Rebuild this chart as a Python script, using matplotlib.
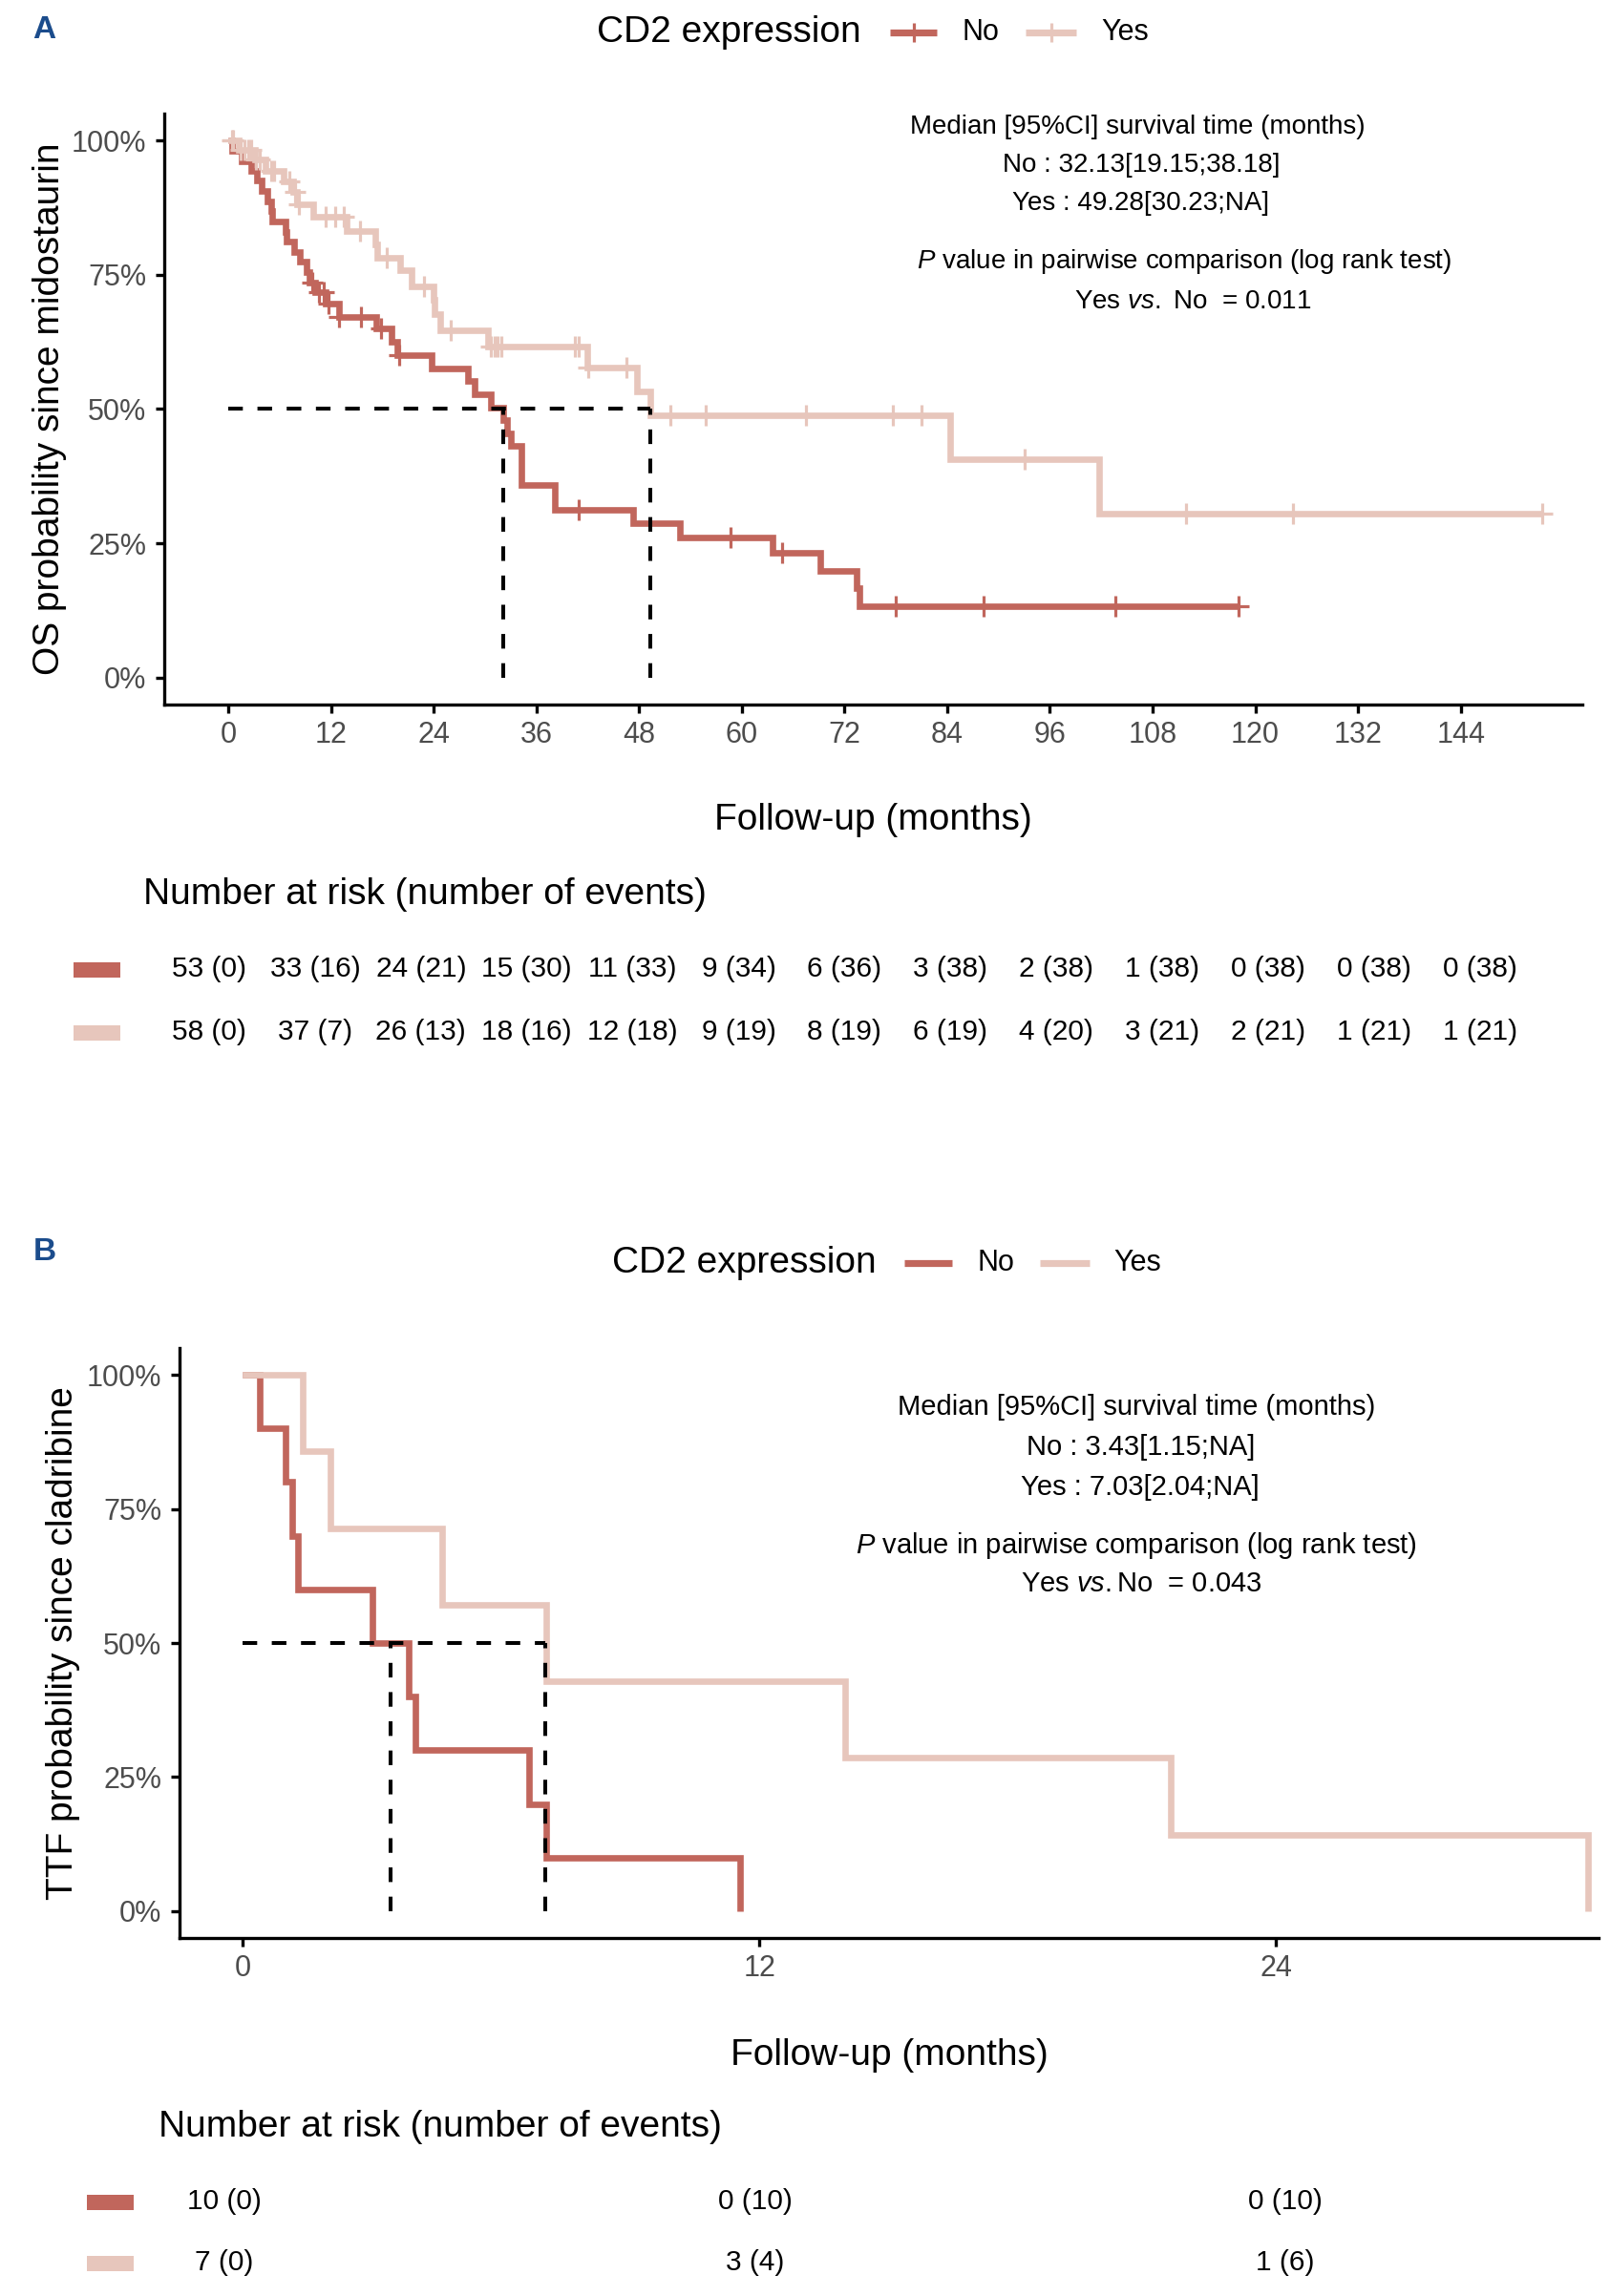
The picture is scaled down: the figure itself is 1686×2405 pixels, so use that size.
import numpy as np
import matplotlib
matplotlib.use("Agg")
import matplotlib.pyplot as plt
from matplotlib.lines import Line2D
from matplotlib.patches import Rectangle

plt.rcParams['font.family'] = ['Liberation Sans', 'DejaVu Sans']
plt.rcParams['mathtext.fontset'] = 'custom'
plt.rcParams['mathtext.rm'] = 'Liberation Sans'
plt.rcParams['mathtext.it'] = 'Liberation Sans:italic'

W, H = 1686, 2405
RED = '#C1665C'
PINK = '#E7C6BC'
GREY = '#4D4D4D'
NAVY = '#1B4C8C'

# ---- panel A : OS since midostaurin ----
no_a_times = [0.5, 1.6, 2.7, 3.3, 3.9, 4.6, 5.0, 5.1, 6.7, 6.8, 7.7, 8.4, 9.1, 9.5,
              10.2, 11.4, 12.9, 17.3, 19.1, 19.7, 23.8, 28.0, 28.8, 30.7, 32.13,
              32.6, 33.0, 34.3, 38.2, 47.3, 52.8, 63.6, 69.2, 73.4, 73.8]
no_a_surv = [0.981, 0.962, 0.943, 0.925, 0.906, 0.887, 0.868, 0.849, 0.830, 0.811,
             0.792, 0.774, 0.755, 0.736, 0.717, 0.697, 0.672, 0.651, 0.625, 0.600,
             0.576, 0.552, 0.528, 0.503, 0.479, 0.455, 0.431, 0.359, 0.313, 0.287,
             0.261, 0.232, 0.199, 0.166, 0.133]
no_a_censor = [9.8, 10.6, 11.2, 11.7, 13.0, 15.5, 17.9, 20.0, 41.0, 58.7, 64.7,
               78.0, 88.3, 103.7, 118.0]
no_a_end = 118.0

yes_a_times = [1.2, 3.1, 4.4, 6.5, 7.6, 8.0, 9.9, 13.8, 17.2, 17.4, 20.1, 21.4,
               23.95, 24.1, 24.8, 30.4, 42.0, 47.8, 49.28, 84.4, 101.7]
yes_a_surv = [0.982, 0.964, 0.944, 0.924, 0.904, 0.881, 0.858, 0.832, 0.807, 0.781,
              0.758, 0.729, 0.703, 0.676, 0.647, 0.617, 0.578, 0.533, 0.488, 0.407,
              0.305]
yes_a_censor = [0.4, 0.6, 1.5, 1.9, 2.3, 2.7, 3.2, 3.7, 5.0, 5.4, 7.1, 7.8, 8.3, 11.4,
                12.5, 13.5, 15.4, 18.5, 22.9, 26.0, 30.7, 31.1, 31.5, 31.9, 40.5,
                40.9, 42.1, 46.5, 51.7, 55.8, 67.5, 77.6, 81.0, 93.1, 111.9, 124.4,
                153.5]
yes_a_end = 153.5

median_a = [32.13, 49.28]
risk_ticks_a = list(range(0, 145, 12))
no_a_risk = [53, 33, 24, 15, 11, 9, 6, 3, 2, 1, 0, 0, 0]
no_a_events = [0, 16, 21, 30, 33, 34, 36, 38, 38, 38, 38, 38, 38]
yes_a_risk = [58, 37, 26, 18, 12, 9, 8, 6, 4, 3, 2, 1, 1]
yes_a_events = [0, 7, 13, 16, 18, 19, 19, 19, 20, 21, 21, 21, 21]

# ---- panel B : TTF since cladribine ----
no_b_times = [0.4, 1.0, 1.15, 1.28, 3.02, 3.85, 4.0, 6.66, 7.05, 11.55]
no_b_surv = [0.9, 0.8, 0.7, 0.6, 0.5, 0.4, 0.3, 0.2, 0.1, 0.0]
yes_b_times = [1.39, 2.04, 4.64, 7.05, 14.0, 21.55, 31.25]
yes_b_surv = [0.857, 0.714, 0.571, 0.429, 0.286, 0.143, 0.0]
median_b = [3.43, 7.03]
risk_ticks_b = [0, 12, 24]
no_b_risk = [10, 0, 0]
no_b_events = [0, 10, 10]
yes_b_risk = [7, 3, 1]
yes_b_events = [0, 4, 6]


def fx(x):
    return x / W


def fy(y):
    return 1 - y / H


def box(l, t, r, b):
    return [l / W, 1 - b / H, (r - l) / W, (b - t) / H]


def draw_km(ax, times, surv, end, color, censors=None):
    x = np.r_[0, times, end]
    y = np.r_[1, surv, surv[-1]]
    ax.step(x, y, where='post', color=color, lw=4.8, solid_joinstyle='miter',
            solid_capstyle='butt', zorder=3)
    if censors:
        lev = np.r_[1, surv][np.searchsorted(times, censors, side='right')]
        ax.plot(censors, lev, '+', color=color, ms=16.5, mew=2.3, zorder=4)


def median_lines(ax, meds):
    kw = dict(color='black', lw=2.9, ls=(0, (3.8, 3.8)), zorder=5)
    ax.plot([0, max(meds)], [0.5, 0.5], **kw)
    for m in meds:
        ax.plot([m, m], [0, 0.5], **kw)


def style(ax, xlim, xticks):
    ax.set_xlim(xlim)
    ax.set_ylim(-0.05, 1.05)
    ax.set_xticks(xticks)
    ax.set_yticks([0, 0.25, 0.5, 0.75, 1])
    ax.set_yticklabels(['0%', '25%', '50%', '75%', '100%'])
    for s in ['top', 'right']:
        ax.spines[s].set_visible(False)
    for s in ['left', 'bottom']:
        ax.spines[s].set_linewidth(2.4)
    ax.tick_params(width=2.4, length=6.5, labelsize=22, labelcolor=GREY)
    ax.tick_params(axis='y', pad=7)
    ax.tick_params(axis='x', pad=6)


def legend(y, title_x, keys, marker):
    fig.text(fx(title_x), fy(y), 'CD2 expression', fontsize=28, ha='left', va='center')
    for x0, x1, tx, label, color in keys:
        fig.add_artist(Line2D([fx(x0), fx(x1)], [fy(y), fy(y)], transform=fig.transFigure,
                              color=color, lw=5.2, solid_capstyle='butt'))
        if marker:
            fig.add_artist(Line2D([fx((x0 + x1) / 2)], [fy(y)], transform=fig.transFigure,
                                  marker='+', ms=14, mew=2.3, color=color))
        fig.text(fx(tx), fy(y), label, fontsize=22, ha='left', va='center')


def risk_table(rect, xlim, ticks, rows, patch_x, row_px, title_xy):
    fig.text(fx(title_xy[0]), fy(title_xy[1]), 'Number at risk (number of events)',
             fontsize=28, ha='left', va='center')
    ax = fig.add_axes(rect)
    ax.set_xlim(xlim)
    ax.set_ylim(-0.5, 1.5)
    ax.axis('off')
    for (risk, ev, color), yrow, ypx in zip(rows, [1, 0], row_px):
        for t, r, e in zip(ticks, risk, ev):
            ax.text(t, yrow, f'{r} ({e})', ha='center', va='center', fontsize=21.5)
        fig.add_artist(Rectangle((fx(patch_x), fy(ypx + 8)), 49 / W, 16 / H,
                                 transform=fig.transFigure, color=color, lw=0))
    return ax


fig = plt.figure(figsize=(W / 100, H / 100), dpi=100)

# ----- A -----
fig.text(fx(46), fy(32), 'A', fontsize=24, fontweight='bold', color=NAVY, ha='center', va='center')
legend(34, 625, [(932, 981, 1007, 'No', RED), (1074, 1127, 1153, 'Yes', PINK)], True)

axA = fig.add_axes(box(172, 119, 1657, 738))
draw_km(axA, no_a_times, no_a_surv, no_a_end, RED, no_a_censor)
draw_km(axA, yes_a_times, yes_a_surv, yes_a_end, PINK, yes_a_censor)
median_lines(axA, median_a)
style(axA, (-7.47, 158.2), risk_ticks_a)
fig.text(fx(52), fy(428), 'OS probability since midostaurin', fontsize=28, rotation=90,
         ha='center', va='center')
fig.text(fx(914), fy(859), 'Follow-up (months)', fontsize=28, ha='center', va='center')

fig.text(fx(1191), fy(133), 'Median [95%CI] survival time (months)', fontsize=20, ha='center', va='center')
fig.text(fx(1195), fy(173), 'No : 32.13[19.15;38.18]', fontsize=20, ha='center', va='center')
fig.text(fx(1195), fy(213), 'Yes : 49.28[30.23;NA]', fontsize=20, ha='center', va='center')
fig.text(fx(1240), fy(274), r'$\mathit{P}$ value in pairwise comparison (log rank test)', fontsize=20,
         ha='center', va='center')
fig.text(fx(1249), fy(316), r'Yes $\mathit{vs.}$ No  = 0.011', fontsize=20, ha='center', va='center')

risk_table(box(150, 982, 1681, 1114), (-7.47, 158.2), risk_ticks_a,
           [(no_a_risk, no_a_events, RED), (yes_a_risk, yes_a_events, PINK)],
           77, [1016, 1082], (150, 937))

# ----- B -----
fig.text(fx(47), fy(1311), 'B', fontsize=24, fontweight='bold', color=NAVY, ha='center', va='center')
legend(1323, 641, [(947, 997, 1024, 'No', RED), (1089, 1141, 1166, 'Yes', PINK)], False)

axB = fig.add_axes(box(188, 1412, 1674, 2030))
draw_km(axB, no_b_times, no_b_surv, no_b_times[-1], RED)
draw_km(axB, yes_b_times, yes_b_surv, yes_b_times[-1], PINK)
median_lines(axB, median_b)
style(axB, (-1.47, 31.5), risk_ticks_b)
fig.text(fx(66), fy(1721), 'TTF probability since cladribine', fontsize=28, rotation=90,
         ha='center', va='center')
fig.text(fx(931), fy(2153), 'Follow-up (months)', fontsize=28, ha='center', va='center')

fig.text(fx(1190), fy(1474), 'Median [95%CI] survival time (months)', fontsize=21, ha='center', va='center')
fig.text(fx(1195), fy(1516), 'No : 3.43[1.15;NA]', fontsize=21, ha='center', va='center')
fig.text(fx(1194), fy(1558), 'Yes : 7.03[2.04;NA]', fontsize=21, ha='center', va='center')
fig.text(fx(1190), fy(1619), r'$\mathit{P}$ value in pairwise comparison (log rank test)', fontsize=21,
         ha='center', va='center')
fig.text(fx(1195), fy(1659), r'Yes $\mathit{vs.}$No  = 0.043', fontsize=21, ha='center', va='center')

risk_table(box(167, 2274, 1693, 2402), (-1.47, 31.5), risk_ticks_b,
           [(no_b_risk, no_b_events, RED), (yes_b_risk, yes_b_events, PINK)],
           91, [2307, 2371], (166, 2228))

fig.savefig('out.png', dpi=100)
